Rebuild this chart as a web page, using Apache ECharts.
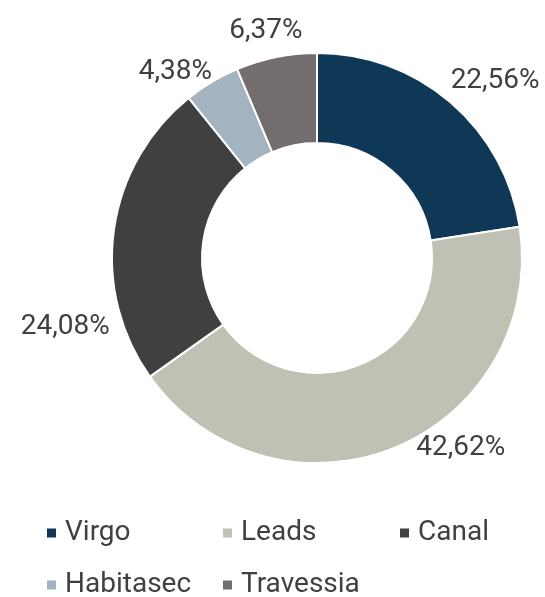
<!DOCTYPE html>
<html>
<head>
<meta charset="utf-8">
<style>
  html, body { margin: 0; padding: 0; background: #fff; }
  #main { width: 545px; height: 597px; }
</style>
<script src="https://cdn.jsdelivr.net/npm/echarts@6/dist/echarts.min.js"></script>
</head>
<body>
<div id="main"></div>
<script>
// data
var categories = ['Virgo', 'Leads', 'Canal', 'Habitasec', 'Travessia'];
var shares = [22.56, 42.62, 24.08, 4.38, 6.37];
var colors = ['#0f3857', '#bfc1b5', '#404040', '#a3b3c0', '#736e6d'];

// label placement (angle tweak in degrees from slice middle, distance from centre)
var labelTurn = [4.6, -15.1, -23.2, -6.4, -1.2];
var labelDist = [251, 238, 261, 234, 233];

// legend grid: column x and row centre y for each entry
var legendCol = [45, 221, 398, 45, 221];
var legendRow = [531, 531, 531, 583, 583];

var cx = 317, cy = 258;
var textColor = '#404040';
var font = 'Roboto, "Liberation Sans", sans-serif';

var myChart = echarts.init(document.getElementById('main'));

var total = shares.reduce(function (a, b) { return a + b; }, 0);
function midAngle(i) {
    var before = 0;
    for (var k = 0; k < i; k++) before += shares[k];
    return (before + shares[i] / 2) / total * 360;
}

// one legend per entry so the columns line up like the original
var legends = categories.map(function (name, i) {
    return {
        data: [name],
        left: legendCol[i],
        top: legendRow[i] - 12,
        padding: 0,
        icon: 'rect',
        itemWidth: 11,
        itemHeight: 11,
        selectedMode: false,
        textStyle: {
            color: textColor,
            fontSize: 28,
            lineHeight: 24,
            fontFamily: font,
            padding: [0, 0, 0, 3]
        }
    };
});

var option = {
    backgroundColor: '#ffffff',
    color: colors,
    animation: false,
    legend: legends,
    series: [
        {
            type: 'pie',
            center: [cx, cy],
            radius: [115, 205],
            startAngle: 90,
            clockwise: true,
            avoidLabelOverlap: false,
            itemStyle: {
                borderColor: '#ffffff',
                borderWidth: 2
            },
            label: {
                show: true,
                position: 'outside',
                color: textColor,
                fontSize: 28,
                fontFamily: font,
                formatter: function (p) {
                    return p.value.toFixed(2).replace('.', ',') + '%';
                }
            },
            labelLine: { show: false },
            labelLayout: function (p) {
                var i = p.dataIndex;
                var a = (midAngle(i) + labelTurn[i]) * Math.PI / 180;
                return {
                    x: cx + labelDist[i] * Math.sin(a),
                    y: cy - labelDist[i] * Math.cos(a),
                    align: 'center',
                    verticalAlign: 'middle'
                };
            },
            emphasis: { disabled: true },
            data: categories.map(function (c, i) {
                return { name: c, value: shares[i] };
            })
        }
    ]
};

myChart.setOption(option);
</script>
</body>
</html>
